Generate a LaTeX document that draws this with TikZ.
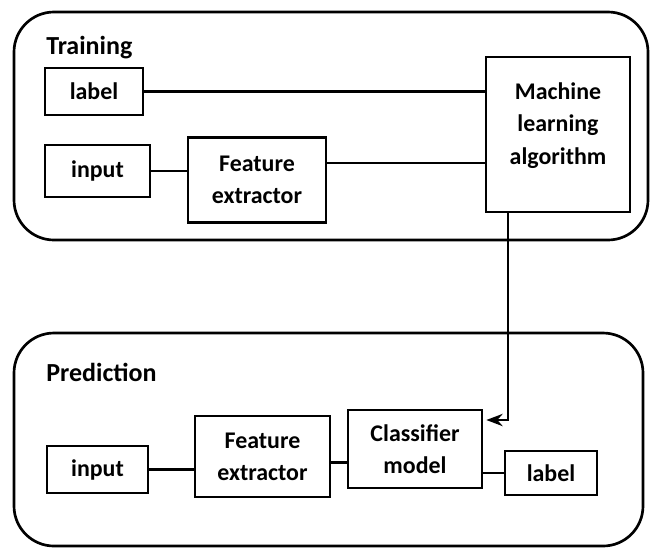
\documentclass[tikz,border=0pt]{standalone}
\usepackage{fontspec}
\setmainfont{Carlito}
\usetikzlibrary{arrows.meta,calc}

\begin{document}
\begin{tikzpicture}[x=0.025cm, y=-0.025cm, >=Stealth,
  frame/.style={line width=1.9pt, rounded corners=1cm},
  box/.style={draw, line width=1.9pt, align=center, inner sep=0pt,
    font=\fontsize{17}{23}\selectfont\bfseries},
  title/.style={anchor=west, inner sep=0pt, font=\fontsize{18.5}{20}\selectfont\bfseries},
  link/.style={line width=1.9pt}]
  \useasboundingbox (0,0) rectangle (657,549);

  % training stage
  \draw[frame] (14,12) rectangle (648,240);
  \node[title] (train) at (46,48) {Training};
  \node[box, minimum width=98*0.025cm, minimum height=47*0.025cm] (tlabel) at (94,91.5) {label};
  \node[box, minimum width=105*0.025cm, minimum height=52*0.025cm] (tinput) at (97.5,171) {input};
  \node[box, minimum width=138*0.025cm, minimum height=85*0.025cm] (tfe) at (257,180) {Feature\\extractor};
  \node[box, minimum width=144*0.025cm, minimum height=155*0.025cm,
    text depth=0.55cm] (ml) at (558,134.5) {Machine\\learning\\algorithm};
  \draw[link] (tlabel.east) -- (tlabel.east -| ml.west);
  \draw[link] (tinput.east) -- (tinput.east -| tfe.west);
  \draw[link] ($(tfe.east)+(0,-17)$) -- ($(tfe.east -| ml.west)+(0,-17)$);

  % prediction stage
  \draw[frame] (14,333) rectangle (643,546);
  \node[title] (pred) at (46,372) {Prediction};
  \node[box, minimum width=101*0.025cm, minimum height=47*0.025cm] (pinput) at (97.5,469.5) {input};
  \node[box, minimum width=135*0.025cm, minimum height=81*0.025cm] (pfe) at (262.5,456.5) {Feature\\extractor};
  \node[box, minimum width=134*0.025cm, minimum height=78*0.025cm] (clf) at (415,449) {Classifier\\model};
  \node[box, minimum width=92*0.025cm, minimum height=44*0.025cm] (plabel) at (551,473) {label};
  \draw[link] (pinput.east) -- (pinput.east -| pfe.west);
  \draw[link] ($(pfe.east)+(0,6)$) -- ($(pfe.east -| clf.west)+(0,6)$);
  \draw[link] (plabel.west -| clf.east) -- (plabel.west);

  % trained model handed over
  \coordinate (drop) at ($(clf.east)+(3,-29)$);
  \draw[link, ->] ($(ml.south)+(-50,0)$) |- (drop);
\end{tikzpicture}
\end{document}
